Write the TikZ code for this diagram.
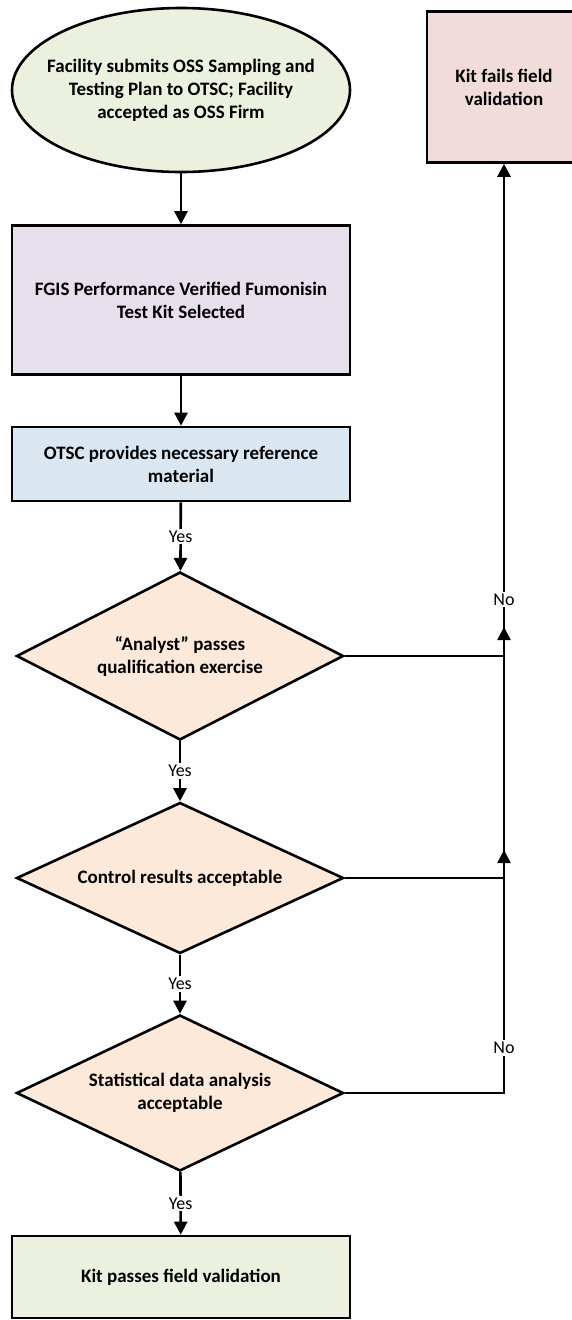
\documentclass[tikz,border=0pt]{standalone}
\usepackage{fontspec}
\setmainfont{Carlito}
\usetikzlibrary{shapes.geometric,arrows.meta}
\definecolor{ossgreen}{HTML}{EBF1DE}
\definecolor{osspurple}{HTML}{E5E0EC}
\definecolor{ossblue}{HTML}{DAE6F0}
\definecolor{osspeach}{HTML}{FDE9D9}
\definecolor{ossred}{HTML}{F2DCDB}

\begin{document}
\begin{tikzpicture}[x=1pt,y=-1pt,
  box/.style={draw,line width=2.6pt,rectangle,align=center,inner sep=0pt,
    font=\bfseries\fontsize{19}{23}\selectfont},
  oval/.style={box,ellipse,inner xsep=-20pt},
  decision/.style={box,diamond,aspect=2,fill=osspeach,minimum width=327pt},
  conn/.style={line width=2.6pt},
  arr/.style={conn,-{Triangle[width=13pt,length=13pt]}},
  lbl/.style={fill=white,inner sep=2pt,font=\fontsize{18}{20}\selectfont}]
  \useasboundingbox (0,0) rectangle (571,1320);
  % main column
  \node[oval,fill=ossgreen,minimum width=338pt,minimum height=164pt] (submit) at (181,90)
    {Facility submits OSS Sampling and\\Testing Plan to OTSC; Facility\\accepted as OSS Firm};
  \node[box,fill=osspurple,minimum width=338pt,minimum height=149pt] (kit) at (181,300)
    {FGIS Performance Verified Fumonisin\\Test Kit Selected};
  \node[box,fill=ossblue,minimum width=338pt,minimum height=74pt] (refmat) at (181,464)
    {OTSC provides necessary reference\\material};
  \node[decision,minimum height=168pt] (analyst) at (180,656)
    {“Analyst” passes\\qualification exercise};
  \node[decision,minimum height=151pt] (control) at (180,878)
    {Control results acceptable};
  \node[decision,minimum height=156pt] (stats) at (180,1093)
    {Statistical data analysis\\acceptable};
  \node[box,fill=ossgreen,minimum width=338pt,minimum height=82pt] (pass) at (181,1277)
    {Kit passes field validation};
  % failure branch
  \node[box,fill=ossred,minimum width=154pt,minimum height=151pt] (fail) at (504,87)
    {Kit fails field\\validation};

  \coordinate (j1) at (analyst.east -| fail.south);
  \coordinate (j2) at (control.east -| fail.south);
  \coordinate (j3) at (stats.east -| fail.south);
  \path (j1) ++(0,-29) coordinate (a1);
  \path (j2) ++(0,-28) coordinate (a2);

  \draw[arr] (submit) -- (kit);
  \draw[arr] (kit) -- (refmat);
  \draw[arr] (refmat) -- node[lbl]{Yes} (analyst);
  \draw[arr] (analyst) -- node[lbl]{Yes} (control);
  \draw[arr] (control) -- node[lbl]{Yes} (stats);
  \draw[arr] (stats) -- node[lbl]{Yes} (pass);

  \draw[conn] (analyst.east) -- (j1);
  \draw[conn] (control.east) -- (j2);
  \draw[conn] (stats.east) -- (j3) -- node[lbl,pos=0.21]{No} (j2) -- (j1);
  \draw[arr] (j2) -- (a2);
  \draw[arr] (j1) -- (a1);
  \draw[arr] (j1) -- node[lbl,pos=0.115]{No} (fail);
\end{tikzpicture}
\end{document}
